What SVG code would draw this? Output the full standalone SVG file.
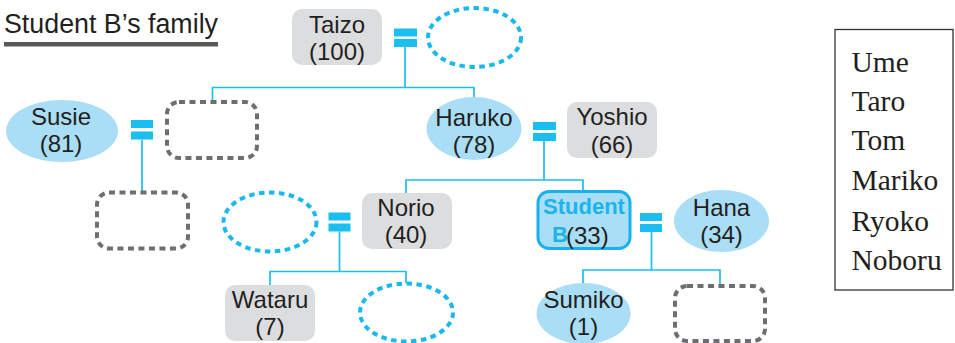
<svg xmlns="http://www.w3.org/2000/svg" width="955" height="343" viewBox="0 0 955 343">
<style>
  .lbl { font-family: "Liberation Sans", Arial, sans-serif; font-size: 24px; fill: #231f20; text-anchor: middle; }
  .lbl.start { text-anchor: start; }
  .gbox { fill: #dcdddf; }
  .bell { fill: #a9def6; }
  .cdash { fill: none; stroke: #1bb8ec; stroke-width: 4; stroke-dasharray: 5.5 4.5; }
  .gdash { fill: none; stroke: #6d6e71; stroke-width: 4; stroke-dasharray: 6 4.5; }
  .eq { fill: #1bbfef; }
  .conn { fill: none; stroke: #1bbfef; stroke-width: 1.7; }
  .list { font-family: "Liberation Serif", "Times New Roman", serif; font-size: 29.5px; fill: #231f20; }
  .sb { font-family: "Liberation Sans", Arial, sans-serif; font-weight: bold; font-size: 22px; fill: #1ab4ea; }
</style>

<g id="title">
  <text x="4" y="33" font-family="Liberation Sans, Arial, sans-serif" font-size="27" fill="#231f20" textLength="214" lengthAdjust="spacingAndGlyphs">Student B’s family</text>
  <rect x="4" y="42" width="214" height="4.5" fill="#58595b"/>
</g>

<g id="connectors">
  <rect class="eq" x="394" y="28.5" width="23" height="8"/>
  <rect class="eq" x="394" y="39" width="23" height="8"/>
  <polyline class="conn" points="405,47 405,87.5"/>
  <polyline class="conn" points="212.5,102 212.5,87.5 474,87.5 474,97"/>

  <rect class="eq" x="131" y="120" width="22" height="8"/>
  <rect class="eq" x="131" y="131.5" width="22" height="8"/>
  <polyline class="conn" points="142,139.5 142,192"/>

  <rect class="eq" x="533" y="122" width="23" height="8"/>
  <rect class="eq" x="533" y="133" width="23" height="8"/>
  <polyline class="conn" points="544,141 544,180"/>
  <polyline class="conn" points="406,193 406,180 583,180 583,191"/>

  <rect class="eq" x="328.5" y="212.5" width="22" height="8"/>
  <rect class="eq" x="328.5" y="223.5" width="22" height="8"/>
  <polyline class="conn" points="339.5,231.5 339.5,271.5"/>
  <polyline class="conn" points="270,285 270,271.5 406,271.5 406,283"/>

  <rect class="eq" x="640" y="213" width="22" height="8"/>
  <rect class="eq" x="640" y="224" width="22" height="8"/>
  <polyline class="conn" points="651.5,232 651.5,270"/>
  <polyline class="conn" points="583,283 583,270 720,270 720,286"/>
</g>

<g id="taizo">
  <rect class="gbox" x="292" y="9" width="90" height="56" rx="10"/>
  <text class="lbl" x="337" y="33">Taizo</text>
  <text class="lbl" x="337" y="60">(100)</text>
</g>
<g id="taizo-spouse">
  <ellipse class="cdash" cx="474.5" cy="37.5" rx="46.5" ry="29.5"/>
</g>

<g id="susie">
  <ellipse class="bell" cx="62" cy="131" rx="56" ry="31"/>
  <text class="lbl" x="61" y="125">Susie</text>
  <text class="lbl" x="61" y="152">(81)</text>
</g>
<g id="susie-spouse">
  <rect class="gdash" x="167" y="102" width="90" height="56" rx="12"/>
</g>
<g id="susie-child">
  <rect class="gdash" x="97" y="192.5" width="91" height="56" rx="12"/>
</g>

<g id="haruko">
  <ellipse class="bell" cx="474" cy="128.5" rx="47.5" ry="31.5"/>
  <text class="lbl" x="474" y="126">Haruko</text>
  <text class="lbl" x="474" y="153">(78)</text>
</g>
<g id="yoshio">
  <rect class="gbox" x="567" y="102" width="90" height="56" rx="10"/>
  <text class="lbl" x="612" y="125">Yoshio</text>
  <text class="lbl" x="612" y="153">(66)</text>
</g>

<g id="norio-spouse">
  <ellipse class="cdash" cx="270" cy="222" rx="46.5" ry="29.5"/>
</g>
<g id="norio">
  <rect class="gbox" x="362" y="193" width="90" height="56" rx="10"/>
  <text class="lbl" x="406" y="216">Norio</text>
  <text class="lbl" x="406" y="243">(40)</text>
</g>

<g id="student-b">
  <rect x="538" y="191.5" width="92" height="57" rx="11" fill="#a9def6" stroke="#19b1eb" stroke-width="3"/>
  <text class="sb" x="584" y="214" text-anchor="middle">Student</text>
  <text class="sb" x="552" y="242">B</text>
  <text class="lbl start" x="566" y="243.5">(33)</text>
</g>
<g id="hana">
  <ellipse class="bell" cx="721.5" cy="221" rx="47.5" ry="31"/>
  <text class="lbl" x="721.5" y="216">Hana</text>
  <text class="lbl" x="721.5" y="243">(34)</text>
</g>

<g id="wataru">
  <rect class="gbox" x="225" y="285" width="90" height="56" rx="10"/>
  <text class="lbl" x="270" y="308">Wataru</text>
  <text class="lbl" x="270" y="335">(7)</text>
</g>
<g id="wataru-sibling">
  <ellipse class="cdash" cx="406.5" cy="312.5" rx="46.5" ry="29"/>
</g>

<g id="sumiko">
  <ellipse class="bell" cx="583.5" cy="313.5" rx="47" ry="30.5"/>
  <text class="lbl" x="583.5" y="308">Sumiko</text>
  <text class="lbl" x="583.5" y="335">(1)</text>
</g>
<g id="sumiko-sibling">
  <rect class="gdash" x="675" y="286" width="90" height="55" rx="12"/>
</g>

<g id="name-list">
  <rect x="835" y="29.5" width="118" height="260.5" fill="none" stroke="#333" stroke-width="1.3"/>
  <text class="list" x="851.5" y="72">Ume</text>
  <text class="list" x="851.5" y="111">Taro</text>
  <text class="list" x="851.5" y="150">Tom</text>
  <text class="list" x="851.5" y="190">Mariko</text>
  <text class="list" x="851.5" y="231">Ryoko</text>
  <text class="list" x="851.5" y="270">Noboru</text>
</g>
</svg>
